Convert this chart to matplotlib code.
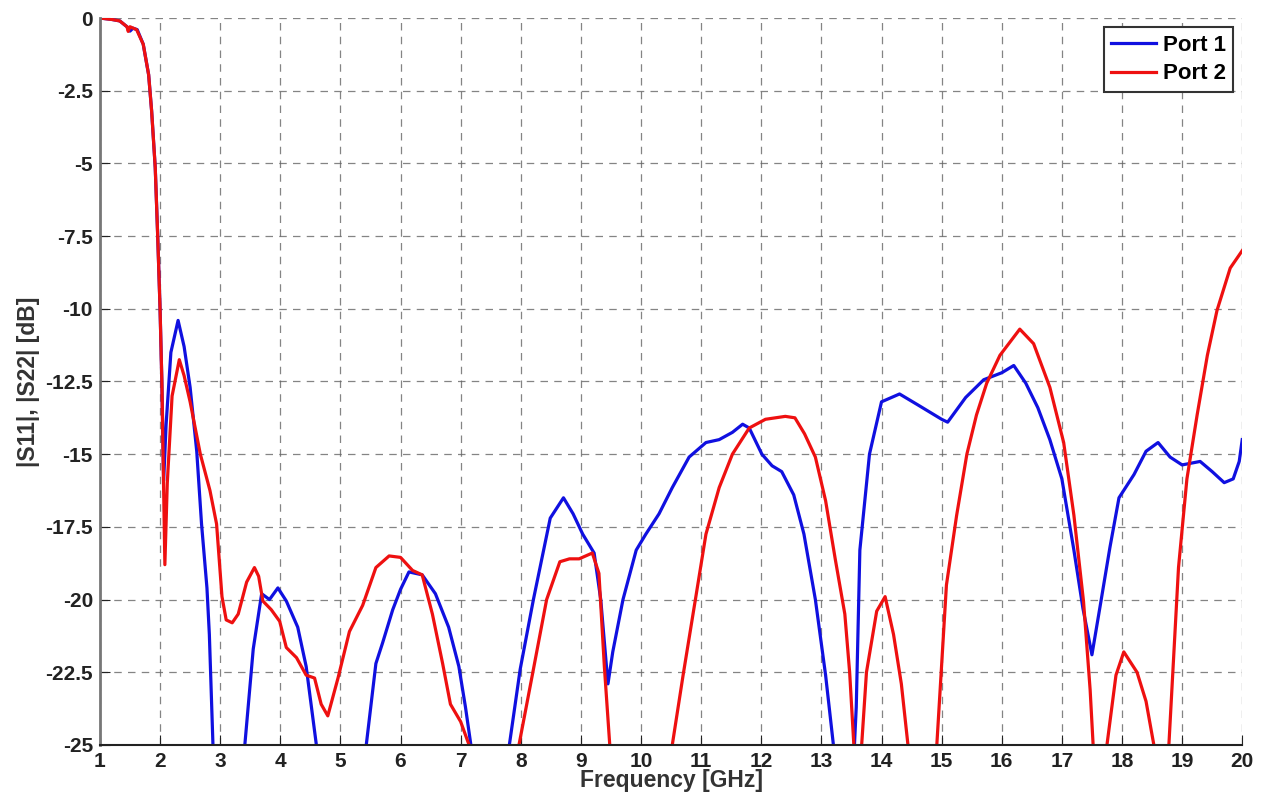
import matplotlib
matplotlib.use('Agg')
import matplotlib.pyplot as plt

# Port 1 (|S11|)
f1 = [1.0, 1.2, 1.33, 1.45, 1.5, 1.55, 1.62, 1.72, 1.81, 1.86, 1.92, 1.96, 2.0, 2.03, 2.06,
      2.1, 2.18, 2.3, 2.4, 2.5, 2.61, 2.69, 2.78, 2.82, 2.88, 2.95, 3.2, 3.38, 3.41, 3.55,
      3.69, 3.82, 3.96, 4.1, 4.29, 4.43, 4.6, 4.7, 5.0, 5.3, 5.43, 5.59, 5.7, 5.87, 6.0,
      6.14, 6.36, 6.58, 6.8, 6.97, 7.08, 7.17, 7.3, 7.5, 7.7, 7.81, 7.99, 8.21, 8.49, 8.71,
      8.87, 9.03, 9.22, 9.33, 9.45, 9.53, 9.7, 9.92, 10.08, 10.3, 10.52, 10.8, 11.08, 11.3,
      11.52, 11.69, 11.8, 12.01, 12.18, 12.34, 12.54, 12.71, 12.9, 13.07, 13.2, 13.35, 13.5,
      13.55, 13.58, 13.64, 13.8, 14.0, 14.3, 14.6, 15.0, 15.1, 15.4, 15.7, 16.0, 16.2, 16.4,
      16.6, 16.8, 17.0, 17.2, 17.35, 17.5, 17.65, 17.8, 17.95, 18.2, 18.4, 18.6, 18.8, 19.0,
      19.3, 19.5, 19.7, 19.85, 19.95, 20.0]
s11 = [0, -0.05, -0.1, -0.3, -0.45, -0.35, -0.4, -0.9, -1.95, -3.2, -5.15, -7.45, -10, -12.5, -15.9,
       -14.0, -11.5, -10.4, -11.3, -12.7, -14.9, -17.4, -19.6, -21.2, -25, -28, -30, -27, -25, -21.7,
       -19.8, -20, -19.6, -20.05, -20.95, -22.3, -25, -27, -30, -27, -25, -22.2, -21.5, -20.35, -19.65,
       -19.05, -19.15, -19.8, -20.95, -22.3, -23.7, -25, -28, -30, -27, -25, -22.4, -20.0, -17.2, -16.5,
       -17.05, -17.75, -18.4, -20.0, -22.9, -21.8, -20, -18.3, -17.75, -17.05, -16.15, -15.1, -14.6, -14.5,
       -14.25, -13.97, -14.1, -15, -15.4, -15.6, -16.4, -17.75, -20, -22.6, -25, -28, -27,
       -25, -23.7, -18.3, -15, -13.2, -12.93, -13.3, -13.8, -13.9, -13.05, -12.44, -12.2, -11.95, -12.56,
       -13.4, -14.5, -15.85, -18.3, -20.3, -21.9, -20.06, -18.2, -16.5, -15.7, -14.9, -14.6, -15.1, -15.37,
       -15.25, -15.6, -15.98, -15.85, -15.25, -14.5]

# Port 2 (|S22|)
f2 = [1.0, 1.2, 1.33, 1.45, 1.47, 1.5, 1.61, 1.72, 1.81, 1.86, 1.92, 1.96, 2.0, 2.03, 2.08,
      2.12, 2.2, 2.32, 2.4, 2.5, 2.67, 2.83, 2.94, 3.03, 3.1, 3.2, 3.3, 3.44, 3.57, 3.64,
      3.71, 3.85, 3.99, 4.1, 4.27, 4.43, 4.57, 4.68, 4.79, 4.96, 5.15, 5.37, 5.59, 5.81, 6.0,
      6.2, 6.36, 6.53, 6.7, 6.83, 7.0, 7.14, 7.3, 7.6, 7.9, 7.97, 8.21, 8.43, 8.65, 8.81,
      8.97, 9.19, 9.3, 9.39, 9.48, 9.6, 10.0, 10.4, 10.52, 10.7, 10.92, 11.08, 11.3, 11.52,
      11.8, 12.07, 12.4, 12.56, 12.72, 12.9, 13.07, 13.23, 13.39, 13.47, 13.54, 13.6, 13.67,
      13.75, 13.92, 14.06, 14.2, 14.33, 14.44, 14.6, 14.8, 14.92, 15.08, 15.25, 15.42, 15.58,
      15.75, 15.97, 16.3, 16.53, 16.8, 17.03, 17.2, 17.36, 17.47, 17.52, 17.62, 17.75, 17.9,
      18.03, 18.25, 18.4, 18.53, 18.65, 18.78, 18.94, 19.08, 19.25, 19.42, 19.58, 19.8, 20.0]
s22 = [0, -0.05, -0.1, -0.3, -0.46, -0.3, -0.4, -0.9, -1.95, -3.2, -5.15, -7.45, -10, -12.5, -18.8,
       -16, -13, -11.75, -12.3, -13.2, -15, -16.25, -17.4, -19.9, -20.7, -20.8, -20.5, -19.4, -18.9, -19.2,
       -20.05, -20.35, -20.75, -21.65, -22.0, -22.6, -22.7, -23.6, -24.0, -22.7, -21.1, -20.2, -18.9, -18.5, -18.55,
       -19.0, -19.15, -20.5, -22.2, -23.6, -24.2, -25, -28, -30, -27, -25, -22.4, -20.0, -18.7, -18.6,
       -18.6, -18.4, -19.1, -22.3, -25, -28, -31, -28, -25, -22.6, -19.8, -17.75, -16.15, -15,
       -14.1, -13.8, -13.7, -13.75, -14.3, -15.1, -16.6, -18.6, -20.5, -22.5, -25, -27, -25,
       -22.5, -20.4, -19.9, -21.2, -22.9, -25, -28, -28, -25, -19.5, -17.1, -15, -13.65,
       -12.56, -11.6, -10.7, -11.2, -12.7, -14.6, -17.1, -20.06, -23.1, -25, -27, -25, -22.6,
       -21.8, -22.5, -23.5, -25, -27, -25, -18.9, -15.85, -13.65, -11.6, -10.06, -8.6, -8.0]

xticks = list(range(1, 21))
yticks = [0, -2.5, -5, -7.5, -10, -12.5, -15, -17.5, -20, -22.5, -25]
ylabels = ['0', '-2.5', '-5', '-7.5', '-10', '-12.5', '-15', '-17.5', '-20', '-22.5', '-25']

plt.rcParams['font.family'] = ['Liberation Sans', 'DejaVu Sans']
plt.rcParams['font.weight'] = 'bold'

fig = plt.figure(figsize=(12.65, 8.01), dpi=100)
ax = fig.add_axes([0.079, 0.07, 0.903, 0.9075])

ax.plot(f1, s11, color='#1010e0', lw=2.3, label='Port 1')
ax.plot(f2, s22, color='#ee1010', lw=2.3, label='Port 2')

ax.set_xlim(1, 20)
ax.set_ylim(-25, 0)
ax.set_xticks(xticks)
ax.set_yticks(yticks)
ax.set_yticklabels(ylabels)
ax.tick_params(direction='in', length=7, labelsize=15, colors='#222222')
ax.tick_params(axis='x', pad=5)
ax.tick_params(axis='y', pad=5)

ax.grid(True, color='#666666', linestyle=(0, (6, 5)), lw=0.9, alpha=0.8)
ax.spines['top'].set_visible(False)
ax.spines['right'].set_visible(False)
ax.spines['left'].set_color('#777777')
ax.spines['left'].set_linewidth(2)
ax.spines['bottom'].set_color('#222222')
ax.spines['bottom'].set_linewidth(1.5)

ax.set_xlabel('Frequency [GHz]', fontsize=16.5, fontweight='bold', color='#333333', labelpad=-1)
ax.set_ylabel('|S11|, |S22| [dB]', fontsize=16.5, fontweight='bold', color='#333333', labelpad=4)

leg = ax.legend(loc='upper right', fontsize=16, fancybox=False, framealpha=1,
                edgecolor='#333333', handlelength=2.0, borderpad=0.35, labelspacing=0.35,
                handletextpad=0.3, borderaxespad=0.4)
leg.get_frame().set_linewidth(1.5)

plt.savefig('out.png', dpi=100)
